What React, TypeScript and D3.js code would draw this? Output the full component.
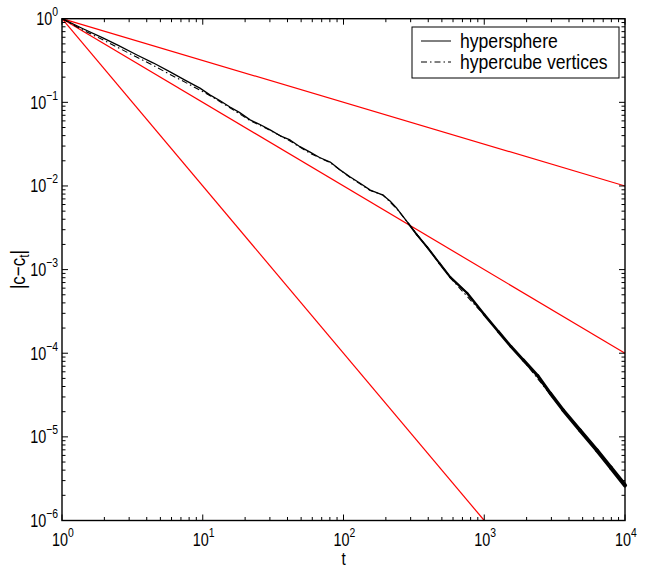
import React, { useEffect, useRef } from 'react';
import * as d3 from 'd3';

// values (t, |c - c_t|)
const sphereT = [1, 1.41, 1.95, 2.51, 3.41, 4.47, 5.86, 7.59, 9.55, 11.3, 13.2, 15.6, 18.2, 21.7, 25.1, 30.1, 35.5, 41.7, 49.0, 57.9, 67.6, 80.4, 93.3, 111, 132, 155, 191, 214, 240, 288, 331, 393, 479, 573, 755, 1000, 1259, 1549, 1892, 2399, 2951, 3631, 4786, 6310, 7943, 10000];
const sphereY = [1, 0.759, 0.589, 0.479, 0.368, 0.295, 0.231, 0.182, 0.148, 0.122, 0.105, 0.0879, 0.0759, 0.0617, 0.055, 0.0468, 0.0398, 0.0355, 0.0295, 0.0254, 0.0219, 0.0193, 0.0158, 0.0129, 0.0107, 0.00891, 0.00776, 0.00661, 0.00537, 0.00359, 0.00263, 0.00186, 0.0012, 0.000813, 0.000525, 0.00029, 0.000182, 0.00012, 0.0000832, 0.0000537, 0.0000331, 0.0000209, 0.000012, 0.00000692, 0.00000427, 0.00000263];

const cubeT = [1, 1.41, 1.95, 2.51, 3.41, 4.47, 5.86, 7.59, 9.55, 12.0, 15.6, 21.7, 30.1, 41.7, 57.9, 80.4, 111, 155, 191, 240, 288, 393, 573, 1000, 1892, 3631, 6310, 10000];
const cubeY = [1, 0.73, 0.56, 0.45, 0.345, 0.275, 0.215, 0.172, 0.14, 0.113, 0.086, 0.0605, 0.0462, 0.0345, 0.0245, 0.019, 0.0127, 0.0088, 0.0078, 0.0053, 0.0036, 0.00184, 0.0008, 0.000285, 0.000082, 0.0000206, 0.0000068, 0.0000026];

// red reference lines t^-1/2, t^-1, t^-2
const refT = [1, 10000];
const refHalfY = [1, 0.01];
const refOneY = [1, 0.0001];
const refTwoT = [1, 1000];
const refTwoY = [1, 0.000001];

const xTickValues = [1, 10, 100, 1000, 10000];
const xTickExp = ['0', '1', '2', '3', '4'];
const yTickValues = [1, 0.1, 0.01, 0.001, 0.0001, 0.00001, 0.000001];
const yTickExp = ['0', '\u22121', '\u22122', '\u22123', '\u22124', '\u22125', '\u22126'];

const legendLabels = ['hypersphere', 'hypercube vertices'];

const FONT = '"Liberation Sans", Arial, Helvetica, sans-serif';

export default function App() {
    const svgRef = useRef<SVGSVGElement>(null);

    useEffect(() => {
        const width = 646;
        const height = 569;
        const left = 62, right = 625, top = 18.7, bottom = 520.5;

        const svg = d3.select(svgRef.current)
            .attr('width', width)
            .attr('height', height);
        svg.selectAll('*').remove();

        const x = d3.scaleLog().domain([1, 10000]).range([left, right]);
        const y = d3.scaleLog().domain([0.000001, 1]).range([bottom, top]);

        const line = d3.line<[number, number]>()
            .x(d => x(d[0]))
            .y(d => y(d[1]));

        const zip = (ts: number[], vs: number[]) => ts.map((t, i) => [t, vs[i]] as [number, number]);

        const plot = svg.append('g');

        // red guide lines
        [[refT, refHalfY], [refT, refOneY], [refTwoT, refTwoY]].forEach(([ts, vs]) => {
            plot.append('path')
                .attr('d', line(zip(ts, vs)))
                .attr('fill', 'none')
                .attr('stroke', '#ff0000')
                .attr('stroke-width', 1.2);
        });

        // hypercube (dash-dot)
        plot.append('path')
            .attr('d', line(zip(cubeT, cubeY)))
            .attr('fill', 'none')
            .attr('stroke', '#000')
            .attr('stroke-width', 1.1)
            .attr('stroke-dasharray', '6,3,1.5,3');

        // hypersphere (solid)
        const spherePts = zip(sphereT, sphereY);
        plot.append('path')
            .attr('d', line(spherePts))
            .attr('fill', 'none')
            .attr('stroke', '#000')
            .attr('stroke-width', 1.3)
            .attr('stroke-linejoin', 'round');

        // the noise band gets wider at late times
        const band = d3.scaleLog().domain([250, 10000]).range([1.6, 4.2]);
        spherePts.forEach((p, i) => {
            const q = spherePts[i + 1];
            if (!q || p[0] < 250) return;
            plot.append('line')
                .attr('x1', x(p[0])).attr('y1', y(p[1]))
                .attr('x2', x(q[0])).attr('y2', y(q[1]))
                .attr('stroke', '#000')
                .attr('stroke-linecap', 'round')
                .attr('stroke-width', band(Math.sqrt(p[0] * q[0])));
        });

        // axes box + ticks
        const axes = svg.append('g');
        axes.append('rect')
            .attr('x', left).attr('y', top)
            .attr('width', right - left).attr('height', bottom - top)
            .attr('fill', 'none')
            .attr('stroke', '#000')
            .attr('stroke-width', 1.4);

        const isMajor = (v: number) => Math.abs(Math.log10(v) - Math.round(Math.log10(v))) < 1e-9;

        x.ticks().forEach(v => {
            const len = isMajor(v) ? 6 : 3.5;
            const px = x(v);
            axes.append('line').attr('x1', px).attr('x2', px).attr('y1', bottom).attr('y2', bottom - len)
                .attr('stroke', '#000').attr('stroke-width', 1);
            axes.append('line').attr('x1', px).attr('x2', px).attr('y1', top).attr('y2', top + len)
                .attr('stroke', '#000').attr('stroke-width', 1);
        });
        y.ticks().forEach(v => {
            const len = isMajor(v) ? 6 : 3.5;
            const py = y(v);
            axes.append('line').attr('y1', py).attr('y2', py).attr('x1', left).attr('x2', left + len)
                .attr('stroke', '#000').attr('stroke-width', 1);
            axes.append('line').attr('y1', py).attr('y2', py).attr('x1', right).attr('x2', right - len)
                .attr('stroke', '#000').attr('stroke-width', 1);
        });

        // tick labels, 10 with a superscript
        const labels = svg.append('g').style('font-family', FONT).attr('fill', '#000');
        xTickValues.forEach((v, i) => {
            const t = labels.append('text')
                .attr('transform', `translate(${x(v) + 1},546) scale(0.8,1)`)
                .attr('text-anchor', 'middle');
            t.append('tspan').style('font-size', '18px').text('10');
            t.append('tspan').style('font-size', '13px').attr('dy', -9).text(xTickExp[i]);
        });
        yTickValues.forEach((v, i) => {
            const t = labels.append('text')
                .attr('transform', `translate(58,${y(v) + 6.5}) scale(0.8,1)`)
                .attr('text-anchor', 'end');
            t.append('tspan').style('font-size', '18px').text('10');
            t.append('tspan').style('font-size', '13px').attr('dy', -9).text(yTickExp[i]);
        });

        // axis titles
        labels.append('text')
            .attr('transform', `translate(${(left + right) / 2},565) scale(0.85,1)`)
            .attr('text-anchor', 'middle')
            .style('font-size', '18px')
            .text('t');

        const yl = labels.append('text')
            .attr('transform', `translate(25,${(top + bottom) / 2}) rotate(-90) scale(0.85,1)`)
            .attr('text-anchor', 'middle')
            .style('font-size', '20px');
        yl.append('tspan').text('|c\u2212c');
        yl.append('tspan').attr('dy', 4).style('font-size', '14px').text('t');
        yl.append('tspan').attr('dy', -4).text('|');

        // legend
        const legend = svg.append('g');
        legend.append('rect')
            .attr('x', 412).attr('y', 27)
            .attr('width', 207).attr('height', 51)
            .attr('fill', '#fff')
            .attr('stroke', '#000')
            .attr('stroke-width', 1);
        const dashes = ['none', '6,3,1.5,3'];
        legendLabels.forEach((label, i) => {
            const ly = 41 + i * 21;
            legend.append('line')
                .attr('x1', 421).attr('x2', 451)
                .attr('y1', ly).attr('y2', ly)
                .attr('stroke', '#000')
                .attr('stroke-width', 1)
                .attr('stroke-dasharray', dashes[i]);
            legend.append('text')
                .attr('transform', `translate(460,${ly + 7}) scale(0.88,1)`)
                .style('font-family', FONT)
                .style('font-size', '20px')
                .text(label);
        });
    }, []);

    return (
        <div>
            <svg ref={svgRef} style={{ position: 'absolute', left: 0, top: 0 }}></svg>
        </div>
    );
}
